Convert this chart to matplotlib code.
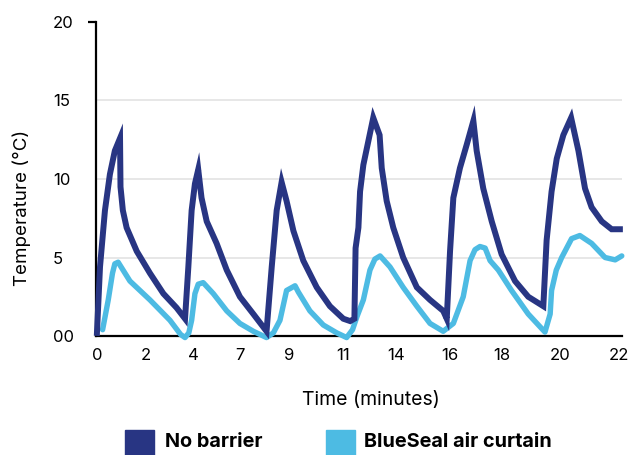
import numpy as np
import matplotlib
matplotlib.use("Agg")
import matplotlib.pyplot as plt
from matplotlib.patches import Rectangle

plt.rcParams['font.family'] = ['Inter', 'DejaVu Sans']

# values
time_no_barrier = [0, 0.13, 0.34, 0.55, 0.76, 0.98, 1.0, 1.1, 1.26, 1.69, 2.25, 2.82, 3.38, 3.74,
                   3.88, 4.02, 4.16, 4.30, 4.44, 4.66, 5.08, 5.51, 6.07, 6.64, 7.2,
                   7.42, 7.63, 7.84, 8.05, 8.34, 8.76, 9.33, 9.89, 10.46, 10.75, 10.93,
                   10.98, 11.1, 11.17, 11.31, 11.52, 11.73, 12.0, 12.09, 12.30, 12.58, 13.0, 13.58, 14.14, 14.7, 14.85,
                   14.99, 15.13, 15.41, 15.7, 15.98, 16.12, 16.4, 16.76, 17.18, 17.75, 18.31, 18.95,
                   19.09, 19.3, 19.52, 19.8, 20.13, 20.44, 20.72, 21.0, 21.43, 21.85, 22.2]
temp_no_barrier = [0.2, 4.4, 8.0, 10.3, 11.8, 12.6, 9.5, 8.0, 6.9, 5.4, 4.0, 2.7, 1.8, 1.1,
                   4.4, 8.0, 9.7, 10.6, 8.8, 7.3, 5.9, 4.2, 2.5, 1.4, 0.3,
                   4.4, 8.0, 9.8, 8.6, 6.7, 4.8, 3.1, 1.9, 1.1, 0.95, 1.1,
                   5.6, 6.9, 9.2, 10.9, 12.4, 13.9, 12.8, 10.7, 8.6, 6.9, 5.0, 3.1, 2.3, 1.6, 1.1,
                   5.4, 8.8, 10.7, 12.2, 13.7, 11.8, 9.4, 7.3, 5.2, 3.5, 2.5, 1.9,
                   6.1, 9.2, 11.3, 12.8, 13.9, 11.8, 9.4, 8.2, 7.3, 6.8, 6.8]

time_air_curtain = [0.24, 0.48, 0.66, 0.76, 0.9, 1.4, 2.25, 3.1, 3.55, 3.74, 3.9,
                    4.02, 4.16, 4.3, 4.51, 4.94, 5.51, 6.07, 6.64, 7.2, 7.49,
                    7.77, 8.05, 8.41, 8.55, 9.04, 9.61, 10.18, 10.6, 10.85,
                    11.03, 11.31, 11.59, 11.8, 12.02, 12.44, 13.0, 13.58, 14.14, 14.7,
                    15.13, 15.55, 15.84, 16.05, 16.26, 16.48, 16.69, 17.04, 17.6, 18.31, 19.02,
                    19.24, 19.3, 19.5, 19.73, 20.15, 20.5, 21.0, 21.57, 22.0, 22.28]
temp_air_curtain = [0.4, 2.3, 4.0, 4.6, 4.7, 3.5, 2.3, 1.0, 0.1, -0.1, 0.2,
                    1.0, 2.7, 3.3, 3.4, 2.7, 1.6, 0.8, 0.3, -0.1, 0.2,
                    1.0, 2.9, 3.2, 2.8, 1.6, 0.7, 0.2, -0.1, 0.4,
                    1.2, 2.3, 4.2, 4.9, 5.1, 4.4, 3.1, 1.9, 0.8, 0.3,
                    0.8, 2.5, 4.8, 5.5, 5.7, 5.6, 4.8, 4.2, 2.9, 1.4, 0.25,
                    1.4, 2.9, 4.2, 5.0, 6.2, 6.4, 5.9, 5.0, 4.85, 5.1]

x_tick_pos = [0, 2.08, 4.08, 6.07, 8.15, 10.43, 12.7, 14.99, 17.2, 19.66, 22.16]
x_tick_labels = ["0", "2", "4", "7", "9", "11", "14", "16", "18", "20", "22"]
y_ticks = [0, 5, 10, 15, 20]
y_tick_labels = ["00", "5", "10", "15", "20"]

dark = "#283583"
light = "#4DBBE3"

fig = plt.figure(figsize=(6.32, 4.55), dpi=100)
ax = fig.add_axes([96/632, 1 - 336/455, 526/632, 314/455])

for g in [5, 10, 15]:
    ax.axhline(g, color="#e3e3e3", lw=1.2, zorder=0)

ax.plot(time_air_curtain, temp_air_curtain, color=light, lw=3.9, zorder=3,
        solid_joinstyle="round", solid_capstyle="round", clip_on=False)
ax.plot(time_no_barrier, temp_no_barrier, color=dark, lw=4.3, zorder=4,
        solid_joinstyle="miter", clip_on=False)

ax.set_xlim(-0.04, 22.29)
ax.set_ylim(0, 20)

for s in ["top", "right"]:
    ax.spines[s].set_visible(False)
ax.spines["left"].set_linewidth(1.6)
ax.spines["bottom"].set_linewidth(1.6)
ax.spines["bottom"].set_zorder(2)

ax.set_xticks(x_tick_pos)
ax.set_xticklabels(x_tick_labels, fontsize=12)
ax.tick_params(axis="x", length=0, pad=9)

ax.set_yticks(y_ticks)
ax.set_yticklabels(y_tick_labels, fontsize=12)
ax.tick_params(axis="y", length=0, pad=31)
for lab in ax.get_yticklabels():
    lab.set_ha("left")
    lab.set_va("center_baseline")
top_tick = ax.yaxis.get_major_ticks()[-1]
top_tick.tick1line.set_markersize(6)
top_tick.tick1line.set_markeredgewidth(1.6)

fig.text(22/632, 1 - 208/455, "Temperature (°C)", rotation=90, ha="center", va="center", fontsize=13.5)
fig.text(371/632, 1 - 400/455, "Time (minutes)", ha="center", va="center", fontsize=14)

# legend
fig.add_artist(Rectangle((125/632, 0), 29/632, 25/455, color=dark, transform=fig.transFigure))
fig.text(165/632, 1 - 442/455, "No barrier", ha="left", va="center", fontsize=14.3, fontweight="bold")
fig.add_artist(Rectangle((326/632, 0), 29/632, 25/455, color=light, transform=fig.transFigure))
fig.text(364/632, 1 - 442/455, "BlueSeal air curtain", ha="left", va="center", fontsize=14.3, fontweight="bold")

fig.savefig("out.png", dpi=100)
